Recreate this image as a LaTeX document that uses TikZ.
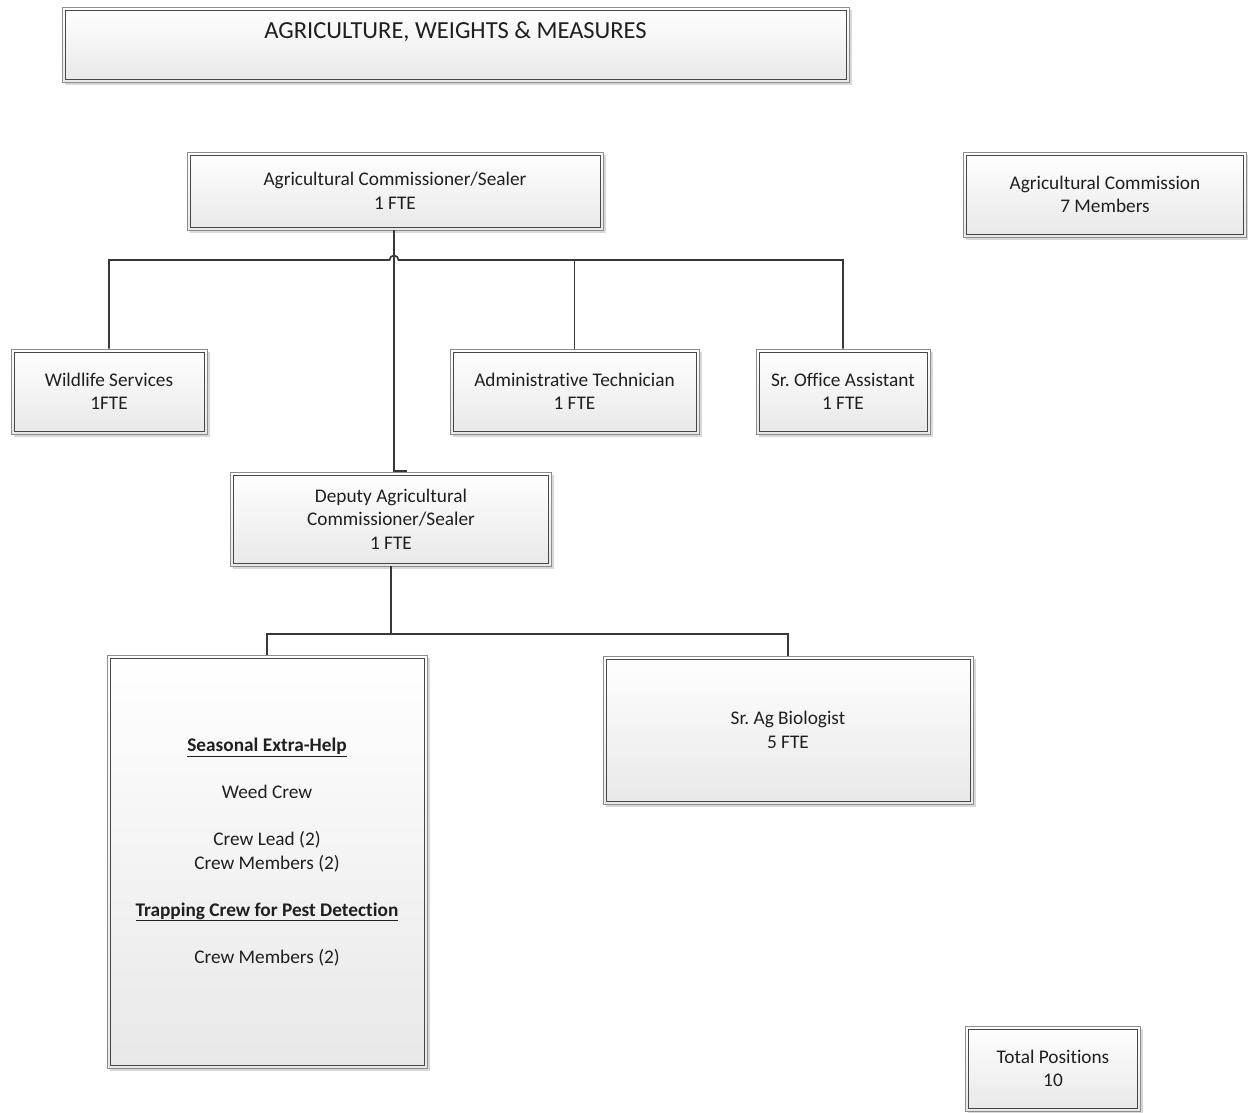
\documentclass[tikz,border=0pt]{standalone}
\usepackage{fontspec}
\setmainfont[Ligatures=NoCommon]{Carlito}
\usetikzlibrary{shadows}
\frenchspacing
\newcommand\bxfont{\fontsize{19.3}{23.5}\selectfont}
\newcommand\ttlfont{\fontsize{24.5}{29}\selectfont}
\newcommand\ul[1]{\underline{#1}}
\tikzset{
  orgbox/.style={rectangle, draw=black!45, line width=0.9pt,
    top color=white, bottom color=black!9, align=center, font=\bxfont,
    text=black!88, inner sep=0pt,
    drop shadow={shadow xshift=2.5pt, shadow yshift=-2.5pt, fill=black!30, opacity=0.5},
    path picture={\draw[black!72, line width=1pt]
      ([shift={(3pt,3pt)}]path picture bounding box.south west) rectangle
      ([shift={(-3pt,-3pt)}]path picture bounding box.north east);}},
  conn/.style={draw=black!78, line width=1.7pt}
}
\begin{document}
\begin{tikzpicture}[x=1pt,y=-1pt]
\useasboundingbox (0,0) rectangle (1248,1112);
% boxes
\node[orgbox, minimum width=787pt, minimum height=75pt, font=\ttlfont,
      text height=16pt, text depth=29pt] (title) at (455.5,45)
  {AGRICULTURE, WEIGHTS \& MEASURES};
\node[orgbox, minimum width=416pt, minimum height=78pt] (comm) at (395,191)
  {Agricultural Commissioner/Sealer\\1 FTE};
\node[orgbox, minimum width=283pt, minimum height=85pt] (agc) at (1105,194.5)
  {Agricultural Commission\\7 Members};
\node[orgbox, minimum width=196pt, minimum height=85pt] (wild) at (109,391.5)
  {Wildlife Services\\1FTE};
\node[orgbox, minimum width=249pt, minimum height=85pt] (admin) at (574.5,391.5)
  {Administrative Technician\\1 FTE};
\node[orgbox, minimum width=174pt, minimum height=85pt] (office) at (843,391.5)
  {Sr. Office Assistant\\1 FTE};
\node[orgbox, minimum width=321pt, minimum height=94pt] (dep) at (391,519)
  {Deputy Agricultural\\Commissioner/Sealer\\1 FTE};
\node[orgbox, minimum width=320pt, minimum height=413pt] (seas) at (267,862)
  {\ul{\textbf{Seasonal Extra-Help}}\\[23.5pt]
   Weed Crew\\[23.5pt]
   Crew Lead (2)\\
   Crew Members (2)\\[23.5pt]
   \ul{\textbf{Trapping Crew for Pest Detection}}\\[23.5pt]
   Crew Members (2)\\[-7.5pt] \strut};
\node[orgbox, minimum width=370pt, minimum height=148pt] (bio) at (788,730)
  {Sr. Ag Biologist\\5 FTE};
\node[orgbox, minimum width=175pt, minimum height=85pt] (total) at (1053,1068.5)
  {Total Positions\\10};
% connectors
\coordinate (bus) at (394,260);
\coordinate (dtop) at (394,471);
\draw[conn] (wild.north) -- (wild.north |- bus) -- ([xshift=-4.5pt]bus)
  arc[start angle=180, end angle=0, radius=4.5pt] -- (office.north |- bus) -- (office.north);
\draw[conn] (admin.north) -- (admin.north |- bus);
\draw[conn] (comm.south -| dtop) -- (dtop) -- ++(13,0);
\coordinate (dbus) at (391,634);
\draw[conn] (dep.south) -- (dbus);
\draw[conn] (seas.north) -- (seas.north |- dbus) -- (bio.north |- dbus) -- (bio.north);
\end{tikzpicture}
\end{document}
